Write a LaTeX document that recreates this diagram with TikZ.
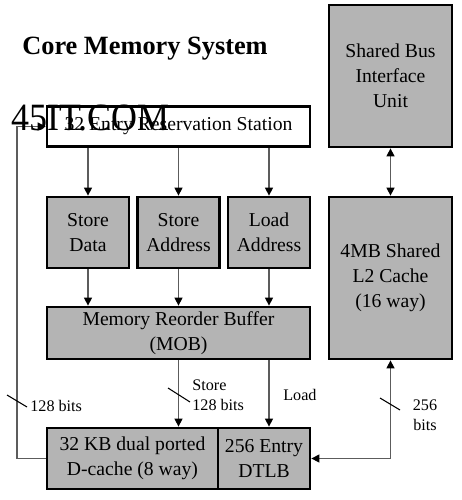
\documentclass[tikz,border=0pt]{standalone}
\usepackage{fontspec}
\setmainfont{Liberation Serif}
\usetikzlibrary{arrows.meta}
\definecolor{boxGray}{HTML}{B4B4B4}
\definecolor{wireGray}{HTML}{5C5C5C}

\begin{document}
\begin{tikzpicture}[x=0.02cm, y=-0.02cm,
  font=\fontsize{11.2}{14.2}\selectfont,
  unit/.style={draw=black, line width=1.6pt, fill=boxGray, align=center, inner sep=0pt},
  wire/.style={wireGray, line width=0.8pt, -{Triangle[length=4.5pt, width=4.5pt, color=black]}},
  wireboth/.style={wireGray, line width=0.8pt, {Triangle[length=4.5pt, width=4.5pt, color=black]}-{Triangle[length=4.5pt, width=4.5pt, color=black]}},
  tick/.style={black, line width=0.6pt},
  bits/.style={font=\fontsize{9.2}{11.3}\selectfont, align=left, inner sep=0pt}]
  \useasboundingbox (0,0) rectangle (462,500);

  \node[font=\fontsize{15}{18}\selectfont\bfseries] (title) at (145,49) {Core Memory System};

  \node[unit, fill=white, minimum width=5.26cm, minimum height=0.80cm] (rs) at (178.5,126.5) {32 Entry Reservation Station};
  \node[unit, minimum width=1.64cm, minimum height=1.42cm] (sd) at (88,232.5) {Store\\Data};
  \node[unit, minimum width=1.64cm, minimum height=1.42cm] (sa) at (178.5,232.5) {Store\\Address};
  \node[unit, minimum width=1.64cm, minimum height=1.42cm] (la) at (269,232.5) {Load\\Address};
  \node[unit, minimum width=5.26cm, minimum height=1.04cm] (mob) at (178.5,333) {Memory Reorder Buffer\\(MOB)};
  \node[unit, minimum width=3.42cm, minimum height=1.22cm] (dc) at (132.5,458.5) {32 KB dual ported\\D-cache (8 way)};
  \node[unit, minimum width=1.84cm, minimum height=1.22cm] (dtlb) at (264,458.5) {256 Entry\\DTLB};
  \node[unit, minimum width=2.46cm, minimum height=2.84cm] (sbiu) at (390.5,76) {Shared Bus\\Interface\\Unit};
  \node[unit, minimum width=2.46cm, minimum height=3.24cm] (l2) at (390.5,278) {4MB Shared\\L2 Cache\\(16 way)};

  \coordinate (loopL) at (17,0);

  \draw[wire] (sd.north |- rs.south) -- (sd.north);
  \draw[wire] (sa.north |- rs.south) -- (sa.north);
  \draw[wire] (la.north |- rs.south) -- (la.north);
  \draw[wire] (sd.south) -- (sd.south |- mob.north);
  \draw[wire] (sa.south) -- (sa.south |- mob.north);
  \draw[wire] (la.south) -- (la.south |- mob.north);
  \draw[wire] (mob.south -| sa) -- (dc.north -| sa);
  \draw[wire] (mob.south -| la) -- (dtlb.north -| la);
  \draw[wire] (dc.west) -- (dc.west -| loopL) -- (rs.west -| loopL) -- (rs.west);
  \draw[wireboth] (sbiu.south) -- (l2.north);
  \draw[wireboth] (dtlb.east) -| (l2.south);

  \draw[tick] (17,401) ++(-10,-6) -- ++(20,12);
  \draw[tick] (179,395) ++(-11,-7) -- ++(22,14);
  \draw[tick] (390,404) ++(-10,-6) -- ++(20,12);

  \node[bits, anchor=west] (bitsL) at (30,406) {128 bits};
  \node[bits, anchor=west] (bitsS) at (192,395) {Store\\128 bits};
  \node[bits, anchor=west] (bitsLd) at (283,395) {Load};
  \node[bits, align=center] (bitsR) at (425,415) {256\\bits};

  \node[anchor=base west, font=\fontsize{22}{24}\selectfont, xscale=0.93, inner sep=0pt] (mark) at (11,131) {45IT.COM};
\end{tikzpicture}
\end{document}
